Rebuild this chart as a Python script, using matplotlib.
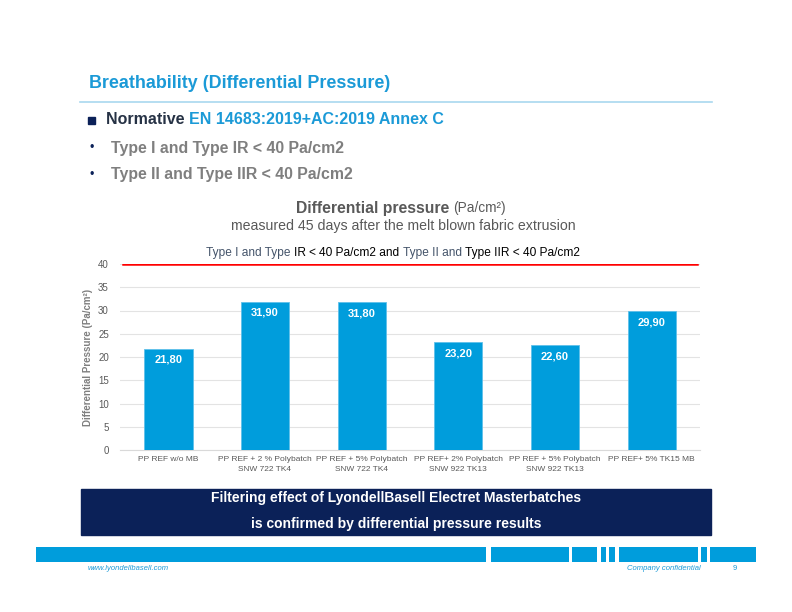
import matplotlib.pyplot as plt
from matplotlib.patches import Rectangle

# data
categories = [
    "PP REF w/o MB",
    "PP REF + 2 % Polybatch\nSNW 722 TK4",
    "PP REF + 5% Polybatch\nSNW 722 TK4",
    "PP REF+ 2% Polybatch\nSNW 922 TK13",
    "PP REF + 5% Polybatch\nSNW 922 TK13",
    "PP REF+ 5% TK15 MB",
]
pressure = [21.80, 31.90, 31.80, 23.20, 22.60, 29.90]
limit = 40
yticks = [0, 5, 10, 15, 20, 25, 30, 35, 40]

BLUE = "#009ddc"
TITLE_BLUE = "#1b9ad7"
NAVY = "#0b2158"
GRAY = "#7f7f7f"

W, H = 792, 612
fig = plt.figure(figsize=(W / 100, H / 100), dpi=100)
plt.rcParams["font.family"] = ["Liberation Sans", "DejaVu Sans"]


def fx(x):
    return x / W


def fy(y):
    return 1 - y / H


# -------------------------------------------------------
# header
# -------------------------------------------------------
fig.text(fx(89), fy(83), "Breathability (Differential Pressure)", color=TITLE_BLUE,
         fontsize=12.9, fontweight="bold", va="center")
fig.add_artist(plt.Line2D([fx(80), fx(712)], [fy(102), fy(102)], color="#a9d8ef", lw=1.2))

fig.add_artist(Rectangle((fx(88), fy(124)), 7 / W, 7 / H, color=NAVY))
t = fig.text(fx(106), fy(120), "Normative ", color="#263245", fontsize=11.5,
             fontweight="bold", va="center")
fig.canvas.draw()
bb = t.get_window_extent()
fig.text(bb.x1 / W, fy(120), "EN 14683:2019+AC:2019 Annex C", color=TITLE_BLUE,
         fontsize=11.5, fontweight="bold", va="center")

for yy, txt in [(148, "Type I and Type IR < 40 Pa/cm2"), (175, "Type II and Type IIR < 40 Pa/cm2")]:
    fig.text(fx(89), fy(yy), "•", color=NAVY, fontsize=9, va="center")
    fig.text(fx(111), fy(yy), txt, color=GRAY, fontsize=11.4, fontweight="bold", va="center")

# chart titles
t1 = fig.text(fx(373), fy(208), "Differential pressure", color="#595959", fontsize=11.3,
              fontweight="bold", va="center", ha="center")
fig.canvas.draw()
bb = t1.get_window_extent()
fig.text(bb.x1 / W + 0.004, fy(208), "(Pa/cm²)", color="#595959", fontsize=9.8, va="center")
fig.text(fx(403), fy(226), "measured 45 days after the melt blown fabric extrusion",
         color="#595959", fontsize=10.2, va="center", ha="center")

# mixed colour legend line
parts = [("Type I and Type ", "#44546a"), ("IR ", "black"), ("< ", "black"),
         ("40 Pa/cm2 and ", "black"), ("Type II and ", "#44546a"),
         ("Type IIR < 40 Pa/cm2", "black")]
x0 = fx(206)
for txt, col in parts:
    tt = fig.text(x0, fy(253), txt, color=col, fontsize=8.6, va="center")
    fig.canvas.draw()
    x0 = tt.get_window_extent().x1 / W

# -------------------------------------------------------
# chart
# -------------------------------------------------------
ax = fig.add_axes([fx(120), fy(450), (700 - 120) / W, (450 - 264) / H])
x = range(len(categories))
bars = ax.bar(x, pressure, width=0.5, color=BLUE, edgecolor="#5fc0ea", linewidth=0.6, zorder=3)
ax.axhline(limit, color="red", lw=1.8, zorder=4, xmin=0.005, xmax=0.995)

for b, v in zip(bars, pressure):
    ax.text(b.get_x() + b.get_width() / 2, v - 2.4, f"{v:.2f}".replace(".", ","),
            ha="center", va="center", color="white", fontsize=8, fontweight="bold", zorder=5)

ax.set_xlim(-0.5, len(categories) - 0.5)
ax.set_ylim(0, 40)
ax.set_yticks(yticks)
ax.set_xticks(list(x))
ax.set_xticklabels(categories, fontsize=6, color="#595959", linespacing=1.6)
ax.tick_params(axis="y", labelsize=7, labelcolor="#595959", length=0, pad=8)
ax.tick_params(axis="x", length=0, pad=4)
ax.grid(axis="y", color="#e3e3e3", lw=0.8, zorder=0)
for s in ["top", "right", "left"]:
    ax.spines[s].set_visible(False)
ax.spines["bottom"].set_color("#d9d9d9")
ax.set_ylabel("Differential Pressure (Pa/cm²)", fontsize=7, color=GRAY,
              fontweight="bold", labelpad=4)

# -------------------------------------------------------
# conclusion box
# -------------------------------------------------------
fig.add_artist(Rectangle((fx(81), fy(535)), (711 - 81) / W, (535 - 489) / H, color=NAVY))
fig.text(fx(396), fy(498), "Filtering effect of LyondellBasell Electret Masterbatches",
         color="white", fontsize=10, fontweight="bold", ha="center", va="center")
fig.text(fx(396), fy(524), "is confirmed by differential pressure results",
         color="white", fontsize=10, fontweight="bold", ha="center", va="center")

# footer bar segments
for a, b in [(36, 486), (491, 569), (572, 597), (601, 606), (609, 615),
             (619, 698), (701, 707), (710, 756)]:
    fig.add_artist(Rectangle((fx(a), fy(562)), (b - a) / W, 15 / H, color=BLUE, lw=0))

fig.text(fx(88), fy(568), "www.lyondellbasell.com", color=TITLE_BLUE, fontsize=5.5,
         style="italic", va="center")
fig.text(fx(627), fy(569), "Company confidential", color=TITLE_BLUE, fontsize=5.5,
         style="italic", va="center")
fig.text(fx(733), fy(568), "9", color=TITLE_BLUE, fontsize=5.5, va="center")

fig.savefig("out.png", dpi=100)
